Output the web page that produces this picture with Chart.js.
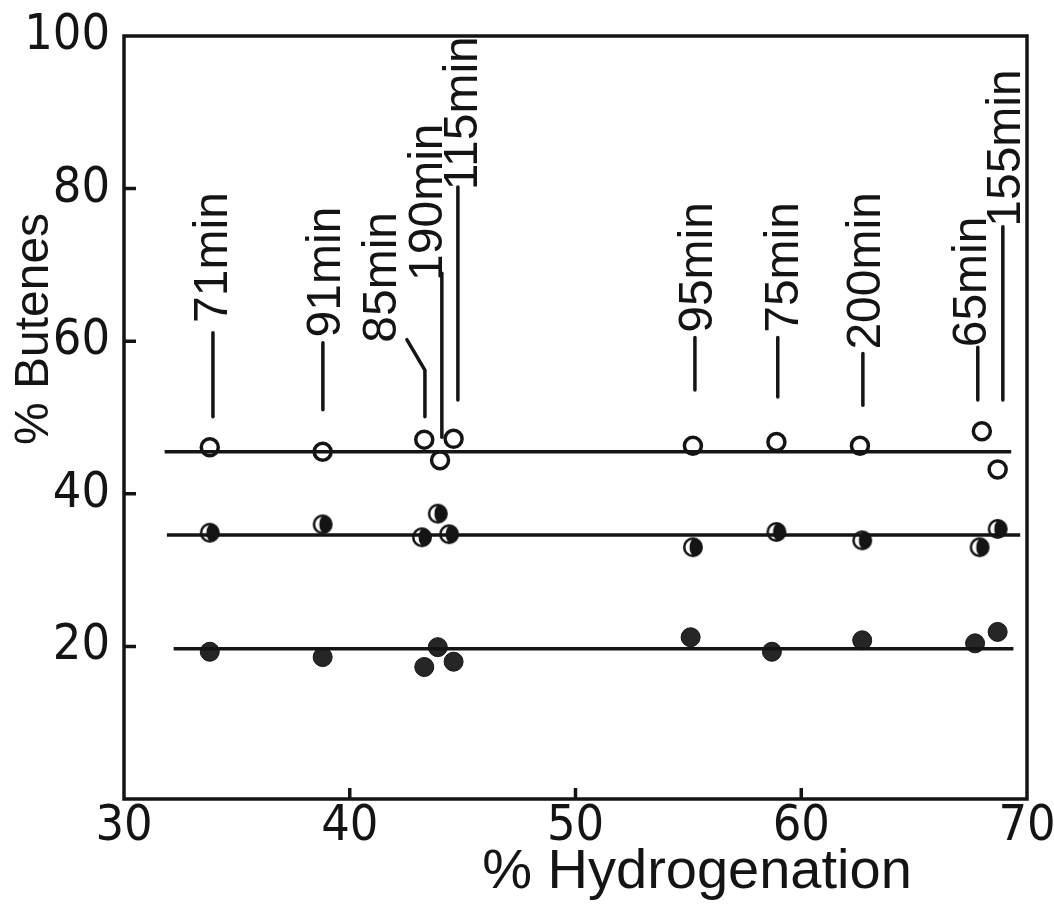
<!DOCTYPE html>
<html>
<head>
<meta charset="utf-8">
<title>% Butenes vs % Hydrogenation</title>
<script src="https://cdn.jsdelivr.net/npm/chart.js@4.4.1/dist/chart.umd.min.js"></script>
<style>
  html, body { margin: 0; padding: 0; background: #fff; }
  #wrap { width: 1054px; height: 906px; }
</style>
</head>
<body>
<div id="wrap"><canvas id="chart" width="1054" height="906"></canvas></div>
<script>
// sample run times, left to right
const runTimes = ['71min', '91min', '85min', '190min', '115min', '95min', '75min', '200min', '65min', '155min'];

// upper product (open circles)
const openX = [33.8, 38.8, 43.3, 44.0, 44.6, 55.2, 58.9, 62.6, 68.0, 68.7];
const openY = [46.1, 45.5, 47.1, 44.4, 47.2, 46.3, 46.8, 46.3, 48.2, 43.2];

// middle product (half filled circles)
const halfX = [33.8, 38.8, 43.2, 43.9, 44.4, 55.2, 58.9, 62.7, 67.9, 68.7];
const halfY = [34.9, 36.0, 34.3, 37.4, 34.7, 33.0, 35.0, 33.9, 33.0, 35.4];

// lower product (filled circles)
const solidX = [33.8, 38.8, 43.3, 43.9, 44.6, 55.1, 58.7, 62.7, 67.7, 68.7];
const solidY = [19.3, 18.6, 17.3, 19.9, 18.0, 21.2, 19.3, 20.8, 20.4, 21.9];

// mean level lines: height and x extent
const meanLevels = [45.5, 34.6, 19.7];
const meanFrom = [31.8, 31.9, 32.2];
const meanTo = [69.3, 69.7, 69.4];

const xTicks = [30, 40, 50, 60, 70];
const yTicks = [20, 40, 60, 80, 100];

// where each run-time tag and its leader sit (axis units)
const tagLayout = [
  { lineX: 33.94, from: 50.1, to: 61.1, textX: 33.83, textY: 62.4 },
  { lineX: 38.81, from: 51.0, to: 59.8, textX: 38.81, textY: 60.5 },
  { lineX: 43.33, from: 50.1, to: 56.2, bendX: 42.53, bendY: 60.2, textX: 41.29, textY: 59.8 },
  { lineX: 44.08, from: 47.4, to: 68.9, textX: 43.33, textY: 67.9 },
  { lineX: 44.79, from: 52.3, to: 80.2, textX: 44.88, textY: 79.8 },
  { lineX: 55.29, from: 53.6, to: 60.5, textX: 55.29, textY: 61.1 },
  { lineX: 58.96, from: 52.7, to: 60.5, textX: 59.10, textY: 61.1 },
  { lineX: 62.73, from: 51.6, to: 58.4, textX: 62.73, textY: 58.9 },
  { lineX: 67.82, from: 52.3, to: 59.2, textX: 67.42, textY: 59.2 },
  { lineX: 68.93, from: 52.3, to: 75.0, textX: 68.93, textY: 75.0 }
];

const INK = '#141414';
const NARROW = "'Liberation Sans Narrow', 'DejaVu Sans Condensed', 'Liberation Sans', sans-serif";
const REGULAR = "'Liberation Sans', Arial, sans-serif";

const pts = (xs, ys) => xs.map((x, i) => ({ x, y: ys[i] }));

// marker: dark disc with a pale crescent on its left side
function halfDot(r) {
  const c = document.createElement('canvas');
  const s = Math.ceil(r * 2 + 4);
  c.width = s; c.height = s;
  const g = c.getContext('2d');
  const m = s / 2;
  const inner = r - 2.5;
  g.fillStyle = INK;
  g.beginPath(); g.arc(m, m, r, 0, Math.PI * 2); g.fill();
  g.fillStyle = '#fff';
  g.beginPath();
  g.arc(m, m, inner, Math.PI / 2, Math.PI * 1.5);
  g.ellipse(m, m, inner * 0.45, inner, 0, Math.PI * 1.5, Math.PI / 2, true);
  g.fill();
  return c;
}

const meanSets = meanLevels.map((lvl, i) => ({
  type: 'line',
  data: [{ x: meanFrom[i], y: lvl }, { x: meanTo[i], y: lvl }],
  borderColor: INK,
  borderWidth: 3.5,
  pointRadius: 0,
  fill: false
}));

// box, inward tick marks, tags and axis titles
const decor = {
  id: 'decor',
  beforeDatasetsDraw(chart) {
    const { ctx, chartArea: a, scales: { x, y } } = chart;
    ctx.save();
    ctx.strokeStyle = INK;
    ctx.lineWidth = 3.5;
    ctx.strokeRect(a.left, a.top, a.right - a.left, a.bottom - a.top);
    ctx.beginPath();
    yTicks.filter(v => v < 100).forEach(v => {
      const py = y.getPixelForValue(v);
      ctx.moveTo(a.left, py); ctx.lineTo(a.left + 12, py);
    });
    xTicks.filter(v => v > 30 && v < 70).forEach(v => {
      const px = x.getPixelForValue(v);
      ctx.moveTo(px, a.bottom); ctx.lineTo(px, a.bottom - 11);
    });
    ctx.stroke();
    ctx.restore();
  },
  afterDatasetsDraw(chart) {
    const { ctx, scales: { x, y } } = chart;
    ctx.save();
    ctx.strokeStyle = INK;
    ctx.fillStyle = INK;
    ctx.lineWidth = 3.5;
    ctx.lineCap = 'round';

    const tagSize = 48;
    ctx.font = `${tagSize}px ${REGULAR}`;
    tagLayout.forEach((t, i) => {
      const lx = x.getPixelForValue(t.lineX);
      ctx.beginPath();
      ctx.moveTo(lx, y.getPixelForValue(t.from));
      ctx.lineTo(lx, y.getPixelForValue(t.to));
      if (t.bendX !== undefined) ctx.lineTo(x.getPixelForValue(t.bendX), y.getPixelForValue(t.bendY));
      ctx.stroke();

      ctx.save();
      ctx.translate(x.getPixelForValue(t.textX) + tagSize * 0.35, y.getPixelForValue(t.textY));
      ctx.rotate(-Math.PI / 2);
      ctx.textAlign = 'left';
      ctx.textBaseline = 'alphabetic';
      ctx.fillText(runTimes[i], 0, 0);
      ctx.restore();
    });

    // y title
    ctx.font = `48px ${REGULAR}`;
    ctx.save();
    ctx.translate(48, 329);
    ctx.rotate(-Math.PI / 2);
    ctx.textAlign = 'center';
    ctx.textBaseline = 'alphabetic';
    ctx.fillText('% Butenes', 0, 0);
    ctx.restore();

    // x title
    ctx.font = `56px ${REGULAR}`;
    ctx.textAlign = 'center';
    ctx.textBaseline = 'alphabetic';
    ctx.fillText('% Hydrogenation', 697, 888);
    ctx.restore();
  }
};

new Chart(document.getElementById('chart'), {
  type: 'scatter',
  data: {
    datasets: [
      ...meanSets,
      {
        data: pts(openX, openY),
        pointStyle: 'circle',
        pointRadius: 8.5,
        pointBackgroundColor: '#fff',
        pointBorderColor: INK,
        pointBorderWidth: 3.5
      },
      {
        data: pts(halfX, halfY),
        pointStyle: halfDot(10)
      },
      {
        data: pts(solidX, solidY),
        pointStyle: 'circle',
        pointRadius: 9.5,
        pointBackgroundColor: '#262626',
        pointBorderColor: INK,
        pointBorderWidth: 1
      }
    ]
  },
  options: {
    responsive: false,
    animation: false,
    devicePixelRatio: 1,
    layout: { padding: { top: 36, right: 27, left: 0, bottom: 0 } },
    plugins: { legend: { display: false }, tooltip: { enabled: false } },
    scales: {
      x: {
        type: 'linear',
        min: 30, max: 70,
        afterBuildTicks: s => { s.ticks = xTicks.map(v => ({ value: v })); },
        afterFit: s => { s.height = 107; s.paddingLeft = 0; s.paddingRight = 0; },
        grid: { display: false, drawTicks: false },
        border: { display: false },
        ticks: {
          color: INK,
          padding: 3,
          maxRotation: 0,
          font: { family: NARROW, size: 50, lineHeight: 1 }
        }
      },
      y: {
        type: 'linear',
        min: 0, max: 100,
        afterBuildTicks: s => { s.ticks = yTicks.map(v => ({ value: v })); },
        afterFit: s => { s.width = 124; s.paddingTop = 0; s.paddingBottom = 0; },
        grid: { display: false, drawTicks: false },
        border: { display: false },
        ticks: {
          color: INK,
          padding: 14,
          font: { family: NARROW, size: 50, lineHeight: 1 }
        }
      }
    }
  },
  plugins: [decor]
});
</script>
</body>
</html>
